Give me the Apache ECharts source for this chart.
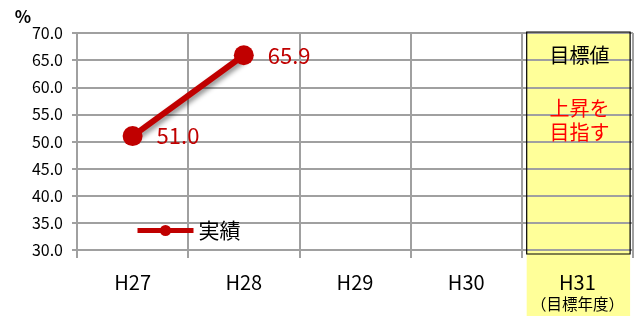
<!DOCTYPE html>
<html><head><meta charset="utf-8">
<script src="https://cdn.jsdelivr.net/npm/echarts@6/dist/echarts.min.js"></script>
<style>html,body{margin:0;padding:0;background:#fff}#c{width:636px;height:323px}</style>
</head><body><div id="c"></div>
<script>
var categories = ['H27', 'H28', 'H29', 'H30', 'H31'];
var actualValues = [51.0, 65.9, null, null, null];
var seriesName = '実績';
var yTicks = {min: 30, max: 70, interval: 5};
var targetCategory = 'H31';
var targetTitle = '目標値';
var targetNote = '上昇を\n目指す';
var targetSub = '（目標年度）';

var FONT = '"Noto Sans CJK JP", "Noto Sans", sans-serif';
var chart = echarts.init(document.getElementById('c'));
var gridColor = '#a0a0a0';
chart.setOption({
  animation: false,
  textStyle: {fontFamily: FONT},
  grid: {left: 77, right: 3, top: 33, bottom: 73},
  legend: {
    left: 130, top: 215, itemWidth: 56, itemHeight: 14, itemGap: 4,
    lineStyle: {width: 5},
    textStyle: {fontSize: 21, color: '#000', fontFamily: FONT},
    data: [seriesName]
  },
  graphic: [],
  xAxis: {
    type: 'category', data: categories, boundaryGap: true,
    axisLine: {lineStyle: {color: gridColor, width: 2}},
    axisTick: {show: true, length: 8, lineStyle: {color: gridColor, width: 2}},
    splitLine: {show: true, lineStyle: {color: gridColor, width: 2}},
    axisLabel: {
      interval: 0, margin: 21, fontSize: 20, color: '#000', fontFamily: FONT, lineHeight: 23,
      formatter: function (v) { return v === targetCategory ? v + '\n{s|' + targetSub + '}' : v; },
      rich: {s: {fontSize: 15.5, color: '#000', fontFamily: FONT, lineHeight: 20}}
    }
  },
  yAxis: {
    type: 'value', min: yTicks.min, max: yTicks.max, interval: yTicks.interval,
    name: '%', nameLocation: 'end', nameGap: 7,
    nameTextStyle: {fontSize: 17, fontWeight: 'bold', color: '#000', align: 'right', padding: [0, 46, 0, 0], fontFamily: FONT},
    axisLine: {show: true, lineStyle: {color: gridColor, width: 2}},
    axisTick: {show: true, length: 5, lineStyle: {color: gridColor, width: 2}},
    splitLine: {show: true, lineStyle: {color: gridColor, width: 2}},
    axisLabel: {margin: 14, fontSize: 16, color: '#000', fontFamily: FONT, formatter: function (v) { return v.toFixed(1); }}
  },
  series: [{
    name: seriesName, type: 'line', data: actualValues, z: 5,
    symbol: 'circle', symbolSize: 20,
    itemStyle: {color: '#c00000'},
    lineStyle: {color: '#c00000', width: 6, shadowColor: 'rgba(0,0,0,0.45)', shadowBlur: 5, shadowOffsetX: 2, shadowOffsetY: 3},
    label: {show: true, position: 'right', distance: 14, fontSize: 22, color: '#c00000', fontFamily: FONT,
      formatter: function (p) { return p.value == null ? '' : Number(p.value).toFixed(1); }}
  }]
});

// target-year highlight band derived from axis scales
var cx = chart.convertToPixel({xAxisIndex: 0}, targetCategory);
var step = chart.convertToPixel({xAxisIndex: 0}, categories[1]) - chart.convertToPixel({xAxisIndex: 0}, categories[0]);
var yTop = chart.convertToPixel({yAxisIndex: 0}, yTicks.max);
var yBot = chart.convertToPixel({yAxisIndex: 0}, yTicks.min);
var w = step * 0.93;
var x0 = cx - w / 2 + 1;
chart.setOption({
  graphic: [
    {type: 'rect', z: -10, silent: true, shape: {x: x0, y: yTop - 1, width: w, height: 317 - yTop}, style: {fill: '#ffff99'}},
    {type: 'rect', z: 10, silent: true, shape: {x: x0, y: yTop - 1, width: w, height: yBot - yTop + 5}, style: {fill: 'none', stroke: '#000', lineWidth: 1.2}},
    {type: 'text', z: 11, silent: true, style: {x: cx + 2, y: yTop + 22, text: targetTitle, fill: '#000', font: '20px ' + FONT, textAlign: 'center', textVerticalAlign: 'middle'}},
    {type: 'text', z: 11, silent: true, style: {x: cx + 2, y: yTop + 87, text: targetNote, fill: '#ff0000', font: '20px ' + FONT, textAlign: 'center', textVerticalAlign: 'middle', lineHeight: 24}}
  ]
});
</script></body></html>
